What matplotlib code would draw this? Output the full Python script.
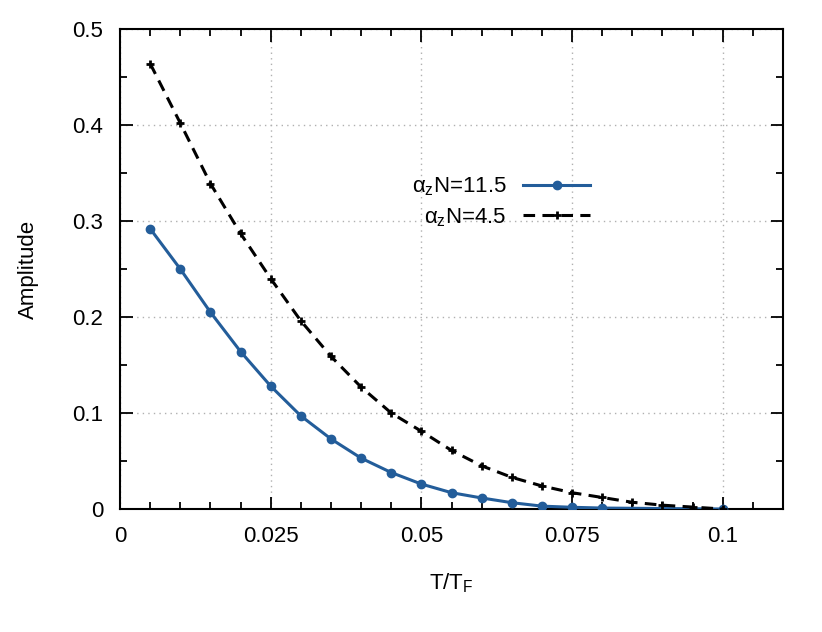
import numpy as np
import matplotlib.pyplot as plt
from matplotlib.ticker import MultipleLocator

plt.rcParams['font.family'] = ['Liberation Sans', 'DejaVu Sans']
plt.rcParams['mathtext.fontset'] = 'custom'
plt.rcParams['mathtext.rm'] = 'Liberation Sans'
plt.rcParams['mathtext.it'] = 'Liberation Sans'
plt.rcParams['mathtext.bf'] = 'Liberation Sans:bold'

# Data
t_blue = [0.005, 0.01, 0.015, 0.02, 0.025, 0.03, 0.035, 0.04, 0.045, 0.05,
          0.055, 0.06, 0.065, 0.07, 0.075, 0.08, 0.1]
amp_blue = [0.292, 0.250, 0.205, 0.164, 0.128, 0.097, 0.073, 0.053, 0.038, 0.026,
            0.017, 0.0115, 0.0066, 0.003, 0.0018, 0.001, 0.0]

t_black = [0.005, 0.01, 0.015, 0.02, 0.025, 0.03, 0.035, 0.04, 0.045, 0.05,
           0.055, 0.06, 0.065, 0.07, 0.075, 0.08, 0.085, 0.09, 0.095, 0.1]
amp_black = [0.464, 0.402, 0.339, 0.287, 0.240, 0.196, 0.159, 0.127, 0.100, 0.081,
             0.061, 0.045, 0.033, 0.024, 0.017, 0.012, 0.007, 0.004, 0.002, 0.0]

label_blue = r'$\alpha_z$N=11.5'
label_black = r'$\alpha_z$N=4.5'

fig = plt.figure(figsize=(8.22, 6.32), dpi=100)
ax = fig.add_axes([0.146, 0.1946, 0.8066, 0.7595])

ax.plot(t_blue, amp_blue, color='#235d9a', lw=2.2, marker='o', ms=6,
        label=label_blue, zorder=3)
ax.plot(t_black, amp_black, color='black', lw=2.2, ls=(0, (3.8, 2.4)), marker='+',
        ms=6, mew=2, label=label_black, zorder=4)

ax.set_xlim(0, 0.11)
ax.set_ylim(0, 0.5)
ax.xaxis.set_minor_locator(MultipleLocator(0.005))
ax.yaxis.set_minor_locator(MultipleLocator(0.05))
ax.set_xticks([0, 0.025, 0.05, 0.075, 0.1])
ax.set_xticklabels(['0', '0.025', '0.05', '0.075', '0.1'])
ax.set_yticks([0, 0.1, 0.2, 0.3, 0.4, 0.5])
ax.set_yticklabels(['0', '0.1', '0.2', '0.3', '0.4', '0.5'])

ax.tick_params(which='both', direction='in', top=True, right=True, labelsize=16, width=1.3)
ax.tick_params(which='major', length=9, pad=12)
ax.tick_params(which='minor', length=5)
for s in ax.spines.values():
    s.set_linewidth(1.5)

ax.grid(True, which='major', color='#b0b0b0', ls=(0, (1, 3)), lw=1.0)

ax.set_xlabel(r'T/T$_\mathregular{F}$', fontsize=16, labelpad=18)
ax.set_ylabel('Amplitude', fontsize=16, labelpad=24)

ax.legend(loc='center right', bbox_to_anchor=(0.709, 0.639), frameon=False,
          markerfirst=False, fontsize=16, handlelength=3.0, handletextpad=0.75,
          labelspacing=0.35, borderaxespad=0, borderpad=0)

fig.savefig('out.png', dpi=100)
